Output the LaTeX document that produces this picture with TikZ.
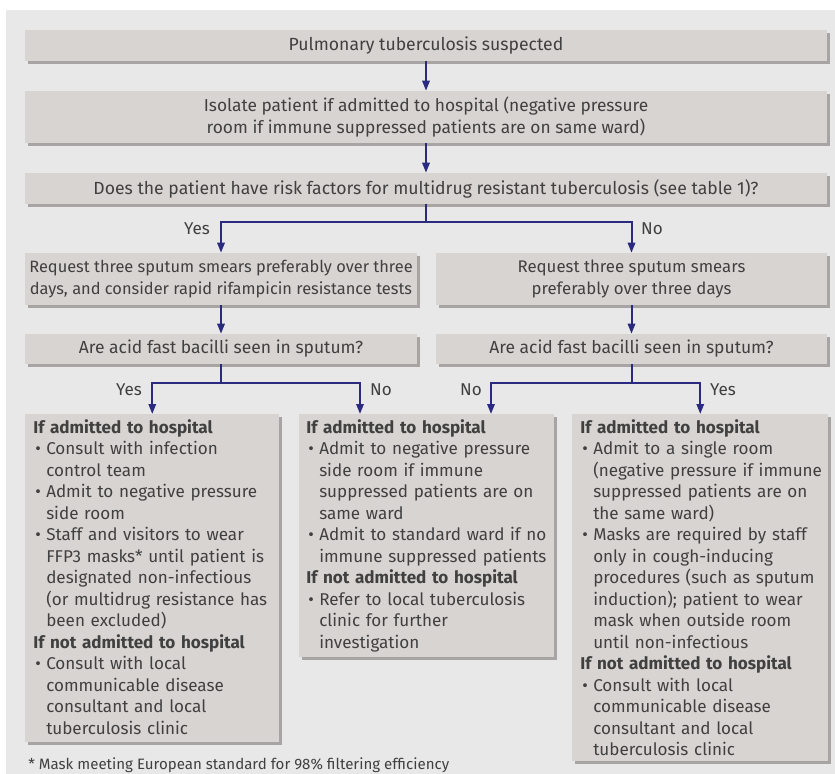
\documentclass[tikz,border=0pt]{standalone}
\usepackage{fontspec}
\setmainfont{Fira Sans}
\usetikzlibrary{shadows,arrows.meta}
\definecolor{bgc}{HTML}{E8E8E8}
\definecolor{boxc}{HTML}{D8D4D1}
\definecolor{shadc}{HTML}{A8A4A4}
\definecolor{txtc}{HTML}{404040}
\definecolor{arrc}{HTML}{2A2A80}
\newcommand\hd[1]{\par\noindent{\bfseries #1}\par}
\newcommand\bi{\par\hangindent=9.75pt\hangafter=1\noindent\makebox[9.75pt][l]{\hspace{1.5pt}\textbullet}}
\begin{document}
\begin{tikzpicture}[x=0.75pt,y=-0.75pt,
  box/.style={rectangle, fill=boxc, text=txtc, inner sep=0pt, align=center,
    font=\fontsize{13}{16.1}\selectfont,
    drop shadow={shadow xshift=2.25pt, shadow yshift=-2.25pt, opacity=1, fill=shadc}},
  listbox/.style={box, anchor=north west},
  listtext/.style={anchor=north west, text=txtc, inner sep=0pt, align=left,
    font=\fontsize{12.8}{16.125}\selectfont},
  lbl/.style={text=txtc, inner sep=0pt, font=\fontsize{12.8}{15}\selectfont},
  conn/.style={draw=arrc, line width=1.5pt, -{Triangle[length=7.5pt,width=5.5pt]}},
  plain/.style={draw=arrc, line width=1.5pt}]
\useasboundingbox (0,0) rectangle (835,774);
\fill[bgc] (6,10) rectangle (835,774);

\node[box, font=\fontsize{13.2}{16.1}\selectfont, minimum width=802*0.75pt, minimum height=31*0.75pt] (b1) at (426,45.5) {Pulmonary tuberculosis suspected};
\node[box, minimum width=802*0.75pt, minimum height=52*0.75pt] (b2) at (426,117) {Isolate patient if admitted to hospital (negative pressure\\room if immune suppressed patients are on same ward)};
\node[box, font=\fontsize{13.2}{16.1}\selectfont, minimum width=802*0.75pt, minimum height=31*0.75pt] (b3) at (426,188.5) {Does the patient have risk factors for multidrug resistant tuberculosis (see table 1)?};
\node[box, font=\fontsize{12.3}{16.1}\selectfont, minimum width=392*0.75pt, minimum height=52*0.75pt] (b4l) at (221,279) {Request three sputum smears preferably over three\\days, and consider rapid rifampicin resistance tests};
\node[box, font=\fontsize{12.6}{16.1}\selectfont, minimum width=391*0.75pt, minimum height=52*0.75pt] (b4r) at (631.5,279) {Request three sputum smears\\preferably over three days};
\node[box, font=\fontsize{13.1}{16.1}\selectfont, minimum width=392*0.75pt, minimum height=30*0.75pt] (b5l) at (221,349) {Are acid fast bacilli seen in sputum?};
\node[box, font=\fontsize{13.1}{16.1}\selectfont, minimum width=391*0.75pt, minimum height=30*0.75pt] (b5r) at (631.5,349) {Are acid fast bacilli seen in sputum?};

\node[listbox, minimum width=254*0.75pt, minimum height=328*0.75pt] (ba) at (25,414) {};
\node[listbox, minimum width=255*0.75pt, minimum height=243*0.75pt] (bb) at (299,414) {};
\node[listbox, minimum width=256*0.75pt, minimum height=347*0.75pt] (bc) at (572,414) {};

\node[listtext, text width=245*0.75pt] (ta) at (33,411.5) {%
\hd{If admitted to hospital}
\bi Consult with infection\newline control team
\bi Admit to negative pressure\newline side room
\bi Staff and visitors to wear\newline FFP3 masks* until patient is\newline designated non-infectious\newline (or multidrug resistance has\newline been excluded)
\hd{If not admitted to hospital}
\bi Consult with local\newline communicable disease\newline consultant and local\newline tuberculosis clinic\par};

\node[listtext, text width=250*0.75pt] (tb) at (306,411.5) {%
\hd{If admitted to hospital}
\bi Admit to negative pressure\newline side room if immune\newline suppressed patients are on\newline same ward
\bi Admit to standard ward if no\newline immune suppressed patients
\hd{If not admitted to hospital}
\bi Refer to local tuberculosis\newline clinic for further\newline investigation\par};

\node[listtext, text width=255*0.75pt] (tc) at (580,411.5) {%
\hd{If admitted to hospital}
\bi Admit to a single room\newline (negative pressure if immune\newline suppressed patients are on\newline the same ward)
\bi Masks are required by staff\newline only in cough-inducing\newline procedures (such as sputum\newline induction); patient to wear\newline mask when outside room\newline until non-infectious
\hd{If not admitted to hospital}
\bi Consult with local\newline communicable disease\newline consultant and local\newline tuberculosis clinic\par};

\node[lbl, anchor=west, font=\fontsize{11.3}{13}\selectfont] (fn) at (28,765) {* Mask meeting European standard for 98\% filtering efficiency};

\coordinate (j1) at (426,222);
\coordinate (j2) at (221,383);
\coordinate (j3) at (631.5,383);
\draw[conn] (b1) -- (b2);
\draw[conn] (b2) -- (b3);
\draw[plain] (b3.south) -- (j1);
\draw[conn] (j1) -| (b4l.north);
\draw[conn] (j1) -| (b4r.north);
\draw[conn] (b4l) -- (b5l);
\draw[conn] (b4r) -- (b5r);
\draw[plain] (b5l.south) -- (j2);
\draw[conn] (j2) -| (ba.north);
\draw[conn] (j2) -| ([xshift=45.75pt]bb.north west);
\draw[plain] (b5r.south) -- (j3);
\draw[conn] (j3) -| ([xshift=144pt]bb.north west);
\draw[conn] (j3) -| (bc.north);

\node[lbl] (y1) at (197,229) {Yes};
\node[lbl] (n1) at (652,229) {No};
\node[lbl] (y2) at (129,390) {Yes};
\node[lbl] (n2) at (381,390) {No};
\node[lbl] (n3) at (471,390) {No};
\node[lbl] (y3) at (723,390) {Yes};
\end{tikzpicture}
\end{document}
